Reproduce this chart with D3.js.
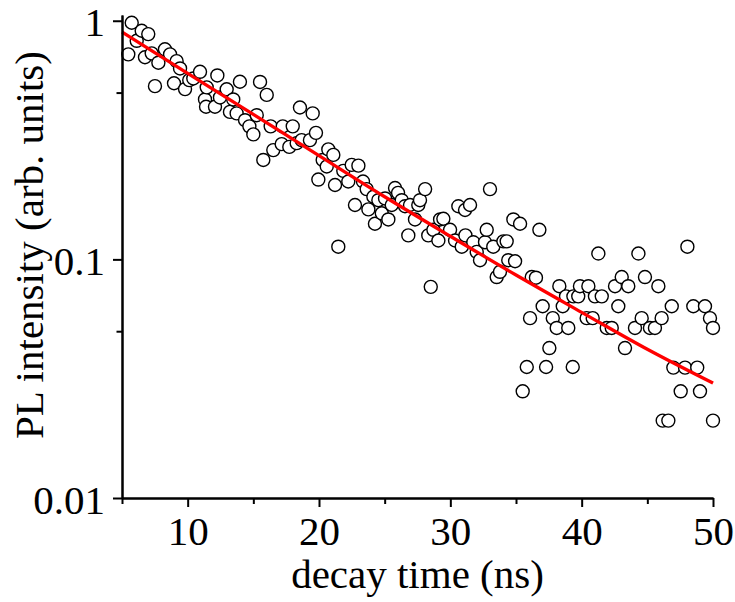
<!DOCTYPE html>
<html>
<head>
<meta charset="utf-8">
<script src="https://cdn.jsdelivr.net/npm/d3@7"></script>
<style>
    html, body { margin: 0; padding: 0; background: #fff; }
    text { font-family: "Liberation Serif", "Times New Roman", serif; fill: #000; }
</style>
</head>
<body>
<div id="svg-container"></div>
<script>
var decayTime = [
    5.48, 5.74, 6.12, 6.50, 6.75, 7.00, 7.26, 7.51, 7.77, 8.27, 8.66, 8.96, 9.16, 9.42, 9.80,
    10.12, 10.43, 10.94, 11.32, 11.40, 11.45, 12.08, 12.26, 12.46, 12.97, 13.22, 13.47, 13.73, 13.98,
    14.37, 14.70, 15.00, 15.26, 15.51, 15.76, 16.02, 16.32, 16.52, 17.16, 17.24, 17.74, 18.00, 18.30,
    18.55, 18.68, 19.31, 19.52, 19.77, 19.95, 20.28, 20.59, 20.71, 21.09, 21.22, 21.47, 21.85, 22.23,
    22.49, 22.74, 23.00, 23.35, 23.63, 23.76, 24.14, 24.26, 24.52, 24.78, 25.03, 25.28, 25.54, 25.79,
    26.02, 26.30, 26.55, 26.80, 26.93, 27.31, 27.56, 27.69, 28.08, 28.32, 28.51, 28.71, 29.09, 29.22,
    29.47, 29.98, 30.36, 30.61, 30.87, 31.12, 31.15, 31.50, 31.75, 32.01, 32.26, 32.64, 32.77, 33.02,
    33.27, 33.53, 33.78, 34.04, 34.29, 34.41, 34.80, 34.93, 35.31, 35.51, 35.82, 36.07, 36.20, 36.52,
    36.78, 37.03, 37.29, 37.54, 37.80, 38.10, 38.30, 38.56, 38.81, 38.98, 39.32, 39.37, 39.74, 39.87,
    40.38, 40.51, 40.84, 41.01, 41.27, 41.53, 41.91, 42.29, 42.54, 42.79, 43.05, 43.30, 43.55, 44.06,
    44.32, 44.57, 44.82, 45.20, 45.58, 45.84, 46.09, 46.17, 46.60, 46.86, 46.98, 47.54, 47.87, 48.05,
    48.50, 48.80, 49.01, 49.39, 49.77, 50.00, 50.00
];
var intensity = [
    0.723, 0.981, 0.824, 0.908, 0.703, 0.879, 0.730, 0.532, 0.667, 0.759, 0.723, 0.547, 0.677, 0.631, 0.517,
    0.564, 0.573, 0.611, 0.468, 0.436, 0.526, 0.436, 0.590, 0.477, 0.516, 0.415, 0.468, 0.409, 0.555,
    0.383, 0.361, 0.334, 0.402, 0.554, 0.261, 0.489, 0.361, 0.287, 0.304, 0.361, 0.296, 0.361, 0.307,
    0.433, 0.316, 0.316, 0.409, 0.339, 0.216, 0.261, 0.245, 0.289, 0.274, 0.205, 0.113, 0.235, 0.212,
    0.249, 0.169, 0.247, 0.212, 0.197, 0.162, 0.183, 0.141, 0.177, 0.156, 0.180, 0.147, 0.169, 0.199,
    0.190, 0.177, 0.167, 0.126, 0.169, 0.147, 0.169, 0.177, 0.197, 0.126, 0.0767, 0.133, 0.120, 0.147,
    0.148, 0.133, 0.120, 0.167, 0.113, 0.161, 0.126, 0.169, 0.118, 0.1075, 0.0992, 0.118, 0.133, 0.197,
    0.113, 0.0843, 0.0887, 0.119, 0.119, 0.0992, 0.147, 0.0982, 0.141, 0.028, 0.0354, 0.0567, 0.0843, 0.0838,
    0.133, 0.0636, 0.0354, 0.0425, 0.0567, 0.0516, 0.0772, 0.0636, 0.070, 0.0516, 0.0354, 0.070, 0.070, 0.0772,
    0.0567, 0.0772, 0.0567, 0.070, 0.1058, 0.070, 0.0516, 0.0516, 0.0772, 0.0636, 0.0843, 0.0425, 0.0772, 0.0516,
    0.1058, 0.0567, 0.0843, 0.0516, 0.0516, 0.0772, 0.0567, 0.0211, 0.0211, 0.0636, 0.0352, 0.028, 0.0352, 0.113,
    0.0636, 0.0352, 0.028, 0.0636, 0.0567, 0.0516, 0.0211
];

// Fit curve (red), sampled from the figure.
var fitTime = [5, 10, 15, 20, 25, 30, 35, 40, 45, 50];
var fitIntensity = [0.897, 0.602, 0.405, 0.272, 0.183, 0.125, 0.086, 0.060, 0.042, 0.0303];

// Axis ticks.
var xMajorTicks = [10, 20, 30, 40, 50];
var xMinorTicks = [5, 15, 25, 35, 45];
var yMajorTicks = [1, 0.1, 0.01];
var yMinorTicks = [0.5, 0.05];
var yTickLabels = ["1", "0.1", "0.01"];

var xLabel = "decay time (ns)";
var yLabel = "PL intensity (arb. units)";

var width = 735, height = 602;
var plot = { left: 122, right: 713, top: 15, bottom: 498 };
var tickFont = 41, titleFont = 41;

var svg = d3.select("#svg-container").append("svg")
    .attr("width", width)
    .attr("height", height)
    .style("display", "block")
    .style("background", "#fff");

var x = d3.scaleLinear().domain([5, 50]).range([plot.left, plot.right]);
var y = d3.scaleLog().domain([0.01, 1.057]).range([plot.bottom, plot.top]);

var points = decayTime.map(function(t, i) { return { t: t, v: intensity[i] }; });
var fit = fitTime.map(function(t, i) { return { t: t, v: fitIntensity[i] }; });

// --------------------------------------------------
// Data points
// --------------------------------------------------
svg.append("g").selectAll(".dot")
    .data(points)
    .enter()
    .append("circle")
    .classed("dot", true)
    .attr("cx", function(d) { return x(d.t); })
    .attr("cy", function(d) { return y(d.v); })
    .attr("r", 6.5)
    .style("fill", "#fff")
    .style("stroke", "#000")
    .style("stroke-width", 1.4);

// Fit line on top of the points.
var line = d3.line()
    .x(function(d) { return x(d.t); })
    .y(function(d) { return y(d.v); })
    .curve(d3.curveMonotoneX);

svg.append("path")
    .datum(fit)
    .attr("d", line)
    .style("fill", "none")
    .style("stroke", "#ff0000")
    .style("stroke-width", 3.3);

// --------------------------------------------------
// Axes
// --------------------------------------------------
function styleAxis(g) {
    g.selectAll("path, line").style("stroke", "#000").style("stroke-width", 2);
    g.selectAll("path").style("fill", "none");
}

var xAxisMinor = d3.axisBottom(x).tickValues(xMinorTicks).tickSize(6).tickSizeOuter(0).tickFormat("");
var xAxisMajor = d3.axisBottom(x).tickValues(xMajorTicks).tickSize(9).tickSizeOuter(0).tickFormat(d3.format("d"));

svg.append("g")
    .attr("transform", "translate(0," + plot.bottom + ")")
    .call(xAxisMinor)
    .call(styleAxis);

var gx = svg.append("g")
    .attr("transform", "translate(0," + plot.bottom + ")")
    .call(xAxisMajor)
    .call(styleAxis);

gx.selectAll("text")
    .attr("y", 47)
    .attr("dy", null)
    .style("font-size", tickFont + "px")
    .style("font-family", "'Liberation Serif', 'Times New Roman', serif");

var yAxisMinor = d3.axisLeft(y).tickValues(yMinorTicks).tickSize(5.5).tickSizeOuter(0).tickFormat("");
var yAxisMajor = d3.axisLeft(y).tickValues(yMajorTicks).tickSize(9).tickSizeOuter(0)
    .tickFormat(function(d, i) { return yTickLabels[i]; });

svg.append("g")
    .attr("transform", "translate(" + plot.left + ",0)")
    .call(yAxisMinor)
    .call(styleAxis);

var gy = svg.append("g")
    .attr("transform", "translate(" + plot.left + ",0)")
    .call(yAxisMajor)
    .call(styleAxis);

gy.selectAll("text")
    .attr("x", -17)
    .attr("dy", null)
    .attr("y", 15)
    .style("font-size", tickFont + "px")
    .style("font-family", "'Liberation Serif', 'Times New Roman', serif");

// Axis titles.
svg.append("text")
    .attr("x", (plot.left + plot.right) / 2)
    .attr("y", 588)
    .style("text-anchor", "middle")
    .style("font-size", titleFont + "px")
    .text(xLabel);

svg.append("text")
    .attr("transform", "translate(43,245) rotate(-90)")
    .style("text-anchor", "middle")
    .style("font-size", titleFont + "px")
    .text(yLabel);
</script>
</body>
</html>
